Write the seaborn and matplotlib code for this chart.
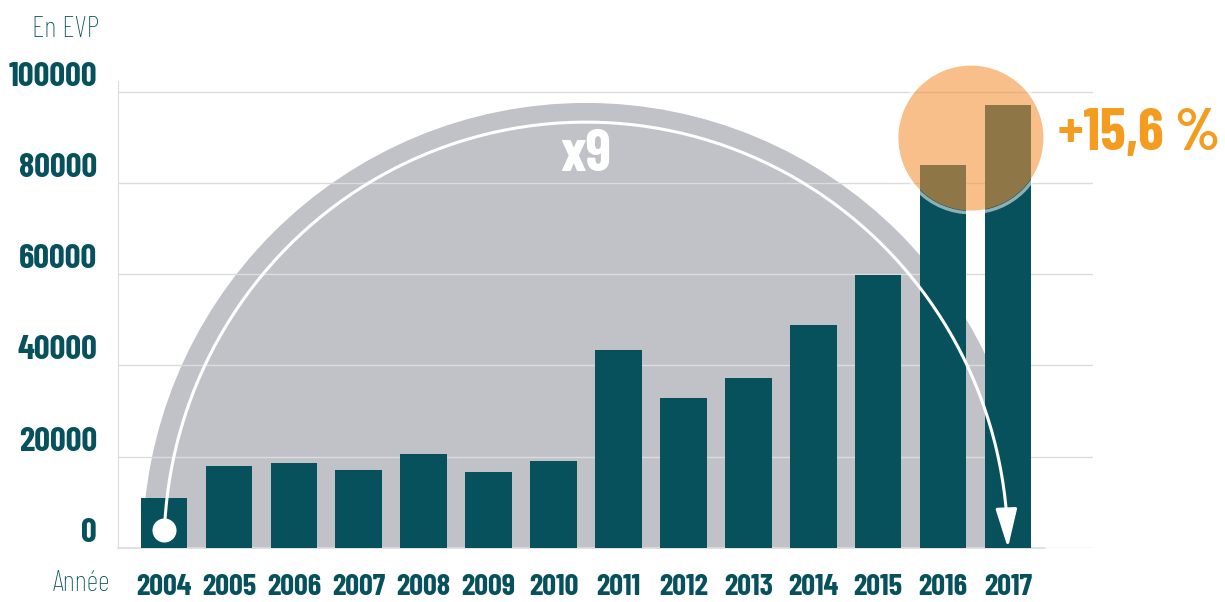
import numpy as np
import pandas as pd
import matplotlib
matplotlib.use("Agg")
import matplotlib.pyplot as plt
from matplotlib.patches import Ellipse
import seaborn as sns

sns.set_style("white")
plt.rcParams['font.family'] = ['Barlow Condensed', 'Roboto Condensed',
                               'Archivo Narrow', 'DejaVu Sans']

# Data
years = ["2004", "2005", "2006", "2007", "2008", "2009", "2010",
         "2011", "2012", "2013", "2014", "2015", "2016", "2017"]
evp = [10900, 18000, 18600, 17100, 20600, 16700, 19100,
       43400, 32900, 37300, 48900, 59900, 84000, 97100]
y_ticks = [0, 20000, 40000, 60000, 80000, 100000]
growth_label = "+15,6 %"
factor_label = "x9"

TEAL = "#06515c"
GRAY = "#c1c2c7"
GRID = "#dcdcdc"
ORANGE = "#f39c1f"

df = pd.DataFrame({"annee": years, "evp": evp})
n = len(years)

fig = plt.figure(figsize=(12.25, 6.02), dpi=100)
ax = fig.add_axes([0.0963, 0.0897, 0.7959, 0.7757])

sns.barplot(data=df, x="annee", y="evp", color=TEAL, saturation=1,
            width=0.72, ax=ax, zorder=2, linewidth=0)

ax.set_xlim(-0.71, 14.31)
ax.set_ylim(0, 102300)

# grey half-disc behind the bars
mid = (n - 1) / 2
ax.add_patch(Ellipse((mid, 0), 2 * (mid + 0.33), 2 * 97500,
                     facecolor=GRAY, edgecolor="none", zorder=0.3))

# white arrow from first to last year
theta = np.linspace(np.pi - 0.0423, 0.08, 200)
arc_x = mid + mid * np.cos(theta)
arc_y = 93300 * np.sin(theta)
ax.plot(arc_x, arc_y, color="white", lw=2.2, zorder=3, solid_capstyle="butt")
ax.annotate("", xy=(n - 1, 0), xytext=(arc_x[-1], arc_y[-1]),
            arrowprops=dict(arrowstyle="-|>,head_length=1.2,head_width=0.33",
                            color="white", lw=2.2, mutation_scale=20,
                            shrinkA=0, shrinkB=0), zorder=3)
ax.scatter([0], [arc_y[0]], s=300, color="white", zorder=3, linewidths=0)
ax.text(mid, 85900, factor_label, ha="center", va="center", color="white",
        fontsize=42, fontweight="bold", zorder=3)

# orange highlight on the last two years
ax.add_patch(Ellipse((12.43, 89800), 2.30, 32700, facecolor="none",
                     edgecolor="white", lw=2.4, alpha=0.55, zorder=3.5,
                     clip_on=False))
ax.add_patch(Ellipse((12.43, 89800), 2.234, 31760, facecolor="#f49237",
                     edgecolor="none", alpha=0.58, zorder=4, clip_on=False))
fig.text(0.8637, 0.776, growth_label, ha="left", va="center", color=ORANGE,
         fontsize=42, fontweight="bold")

# axes styling
ax.set_axisbelow(True)
ax.yaxis.grid(True, color=GRID, lw=1)
ax.xaxis.grid(False)
for s in ["top", "right", "bottom"]:
    ax.spines[s].set_visible(False)
ax.spines["left"].set_color(GRID)
ax.plot([-0.71, n - 1 + 0.57], [0, 0], color=GRID, lw=1.2, zorder=1,
        clip_on=False)

ax.set_yticks(y_ticks)
ax.set_yticklabels([str(v) for v in y_ticks], fontweight="bold", va="bottom")
ax.tick_params(axis="y", length=0, pad=15, labelsize=25, labelcolor=TEAL)
ax.tick_params(axis="x", length=0, pad=19, labelsize=22, labelcolor=TEAL)
for lab in ax.get_xticklabels():
    lab.set_fontweight("bold")
ax.set_xlabel("")
ax.set_ylabel("")

fig.text(0.0808, 0.9385, "En EVP", ha="right", va="baseline", color=TEAL,
         fontsize=21, fontweight="light")
fig.text(0.0898, 0.018, "Année", ha="right", va="baseline", color=TEAL,
         fontsize=21, fontweight="light")

fig.savefig("out.png", dpi=100)
